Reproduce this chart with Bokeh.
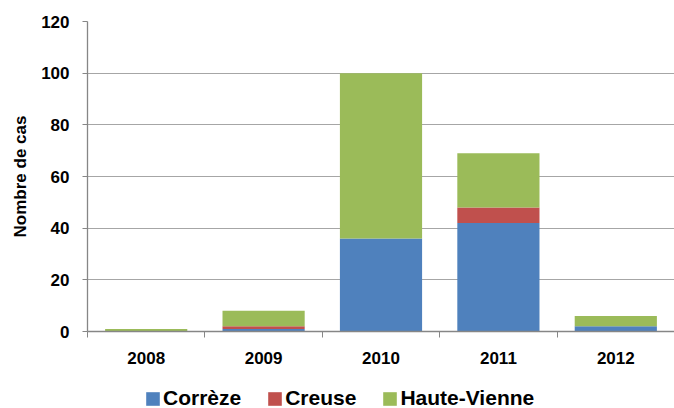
import math
from bokeh.plotting import figure
from bokeh.layouts import column
from bokeh.models import Range1d, FixedTicker, Legend, LegendItem, ColumnDataSource
from bokeh.embed import file_html
from bokeh.resources import INLINE

years = ["2008", "2009", "2010", "2011", "2012"]
correze = [0, 1, 36, 42, 2]
creuse = [0, 1, 0, 6, 0]
haute_vienne = [1, 6, 64, 21, 4]
series = ["Corrèze", "Creuse", "Haute-Vienne"]
colors = ["#4F81BD", "#C0504D", "#9BBB59"]
y_ticks = [0, 20, 40, 60, 80, 100, 120]
y_title = "Nombre de cas"

FONT = "Liberation Sans"
AXIS_COLOR = "#868686"

xpos = [i + 0.5 for i in range(len(years))]
source = ColumnDataSource(dict(x=xpos, **{series[0]: correze, series[1]: creuse, series[2]: haute_vienne}))

p = figure(width=674, height=368, output_backend="svg", toolbar_location=None,
           x_range=Range1d(0, len(years)), y_range=Range1d(y_ticks[0], y_ticks[-1]),
           min_border_left=87, min_border_right=0, min_border_top=21, min_border_bottom=37)
p.outline_line_color = None
p.background_fill_color = "white"

renderers = p.vbar_stack(series, x="x", width=0.7, color=colors, source=source, line_color=None)

# axes
p.yaxis.ticker = FixedTicker(ticks=y_ticks)
p.yaxis.axis_line_color = AXIS_COLOR
p.yaxis.axis_line_width = 1.3
p.yaxis.major_tick_line_color = AXIS_COLOR
p.yaxis.major_tick_out = 5
p.yaxis.major_tick_in = 0
p.yaxis.minor_tick_line_color = None
p.yaxis.major_label_standoff = 13
p.yaxis.major_label_text_font = FONT
p.yaxis.major_label_text_font_style = "bold"
p.yaxis.major_label_text_font_size = "17px"
p.yaxis.major_label_text_color = "black"
p.yaxis.axis_label = y_title
p.yaxis.axis_label_text_font = FONT
p.yaxis.axis_label_text_font_style = "bold"
p.yaxis.axis_label_text_font_size = "17px"
p.yaxis.axis_label_text_color = "black"
p.yaxis.axis_label_standoff = 8

p.xaxis.ticker = FixedTicker(ticks=xpos, minor_ticks=list(range(len(years) + 1)))
p.xaxis.major_label_overrides = {x: y for x, y in zip(xpos, years)}
p.xaxis.axis_line_color = AXIS_COLOR
p.xaxis.axis_line_width = 1.6
p.xaxis.major_tick_line_color = None
p.xaxis.major_tick_out = 0
p.xaxis.major_tick_in = 0
p.xaxis.minor_tick_line_color = AXIS_COLOR
p.xaxis.minor_tick_out = 6
p.xaxis.minor_tick_in = 0
p.xaxis.major_label_standoff = 14
p.xaxis.major_label_text_font = FONT
p.xaxis.major_label_text_font_style = "bold"
p.xaxis.major_label_text_font_size = "17px"
p.xaxis.major_label_text_color = "black"

p.xgrid.grid_line_color = None
p.ygrid.ticker = FixedTicker(ticks=y_ticks)
p.ygrid.grid_line_color = "#a6a6a6"
p.ygrid.grid_line_width = 1

# legend strip below the chart (its frame is aligned with the chart's frame)
pl = figure(width=674, height=40, output_backend="svg", toolbar_location=None,
            x_axis_location=None, y_axis_location=None,
            x_range=Range1d(1000, 1005), y_range=Range1d(1000, 1001),
            min_border_left=87, min_border_right=0, min_border_top=0, min_border_bottom=0)
pl.outline_line_color = None
pl.grid.grid_line_color = None
# same stacked bars, kept far outside the strip's visible range: only their legend swatches show
leg_renderers = pl.vbar_stack(series, x="x", width=0.7, color=colors, source=source, line_color=None)

legend = Legend(items=[LegendItem(label=s, renderers=[r]) for s, r in zip(series, leg_renderers)],
                orientation="horizontal", location=(57, -2))
legend.glyph_width = 17
legend.glyph_height = 17
legend.label_standoff = 2
legend.spacing = 25
legend.padding = 0
legend.margin = 0
legend.border_line_color = None
legend.background_fill_alpha = 0
legend.label_text_font = FONT
legend.label_text_font_style = "bold"
legend.label_text_font_size = "21px"
legend.label_text_color = "black"
pl.add_layout(legend, "center")

layout = column(p, pl, spacing=0)
open("out.html", "w").write(file_html(layout, INLINE))
